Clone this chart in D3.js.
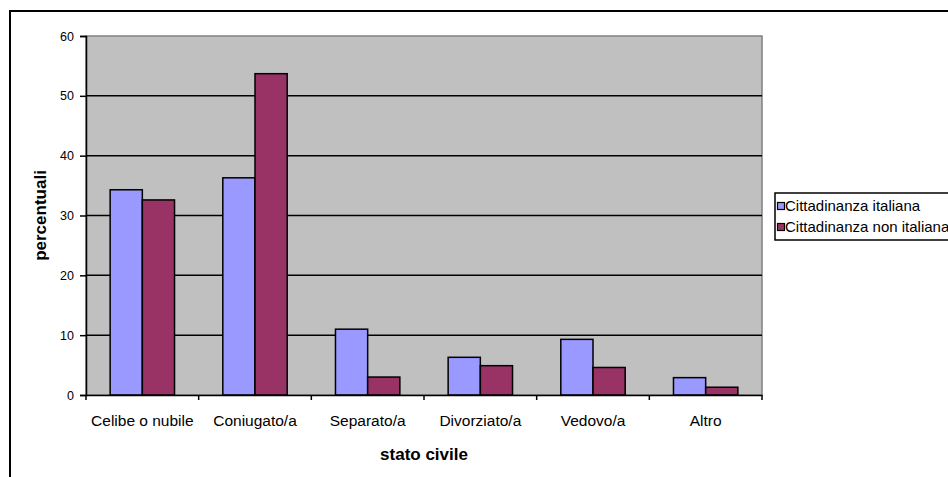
<!DOCTYPE html>
<html>
<head>
<meta charset="utf-8">
<script src="https://cdn.jsdelivr.net/npm/d3@7"></script>
<style>
  body { margin: 0; background: #fff; }
  svg { display: block; font-family: "Liberation Sans", Arial, sans-serif; }
</style>
</head>
<body>
<div id="chart"></div>
<script>
// categories and series
const categories = ["Celibe o nubile", "Coniugato/a", "Separato/a", "Divorziato/a", "Vedovo/a", "Altro"]
const seriesNames = ["Cittadinanza italiana", "Cittadinanza non italiana"]
const italiana = [34.3, 36.3, 11.0, 6.3, 9.3, 2.9]
const nonItaliana = [32.6, 53.7, 3.0, 4.9, 4.6, 1.3]
const yTicks = [0, 10, 20, 30, 40, 50, 60]
const colors = ["#9999FF", "#993366"]

let width = 948
let height = 477

let plot = {left: 86, right: 762, top: 36, bottom: 395}

const svg = d3.select('#chart')
  .append('svg')
  .attr('width', width)
  .attr('height', height)

// outer chart frame (runs off the right and bottom edge)
svg.append('rect')
  .attr('x', 10)
  .attr('y', 11)
  .attr('width', 1000)
  .attr('height', 600)
  .attr('fill', 'none')
  .attr('stroke', '#000')
  .attr('stroke-width', 2)

let x0 = d3.scaleBand()
  .domain(categories)
  .range([plot.left, plot.right])

let x1 = d3.scaleBand()
  .domain(seriesNames)
  .range([0, x0.bandwidth()])
  .paddingInner(0)
  .paddingOuter(0.75)

let y = d3.scaleLinear()
  .domain([0, 60])
  .range([plot.bottom, plot.top])

// plot background
svg.append('rect')
  .attr('x', plot.left)
  .attr('y', plot.top)
  .attr('width', plot.right - plot.left)
  .attr('height', plot.bottom - plot.top)
  .attr('fill', '#C0C0C0')
  .attr('stroke', '#808080')
  .attr('stroke-width', 1.5)

// gridlines
svg.append('g')
  .selectAll('line')
  .data(yTicks.filter(d => d > 0 && d < 60))
  .join('line')
  .attr('x1', plot.left)
  .attr('x2', plot.right)
  .attr('y1', d => y(d))
  .attr('y2', d => y(d))
  .attr('stroke', '#000')
  .attr('stroke-width', 1.5)

// bars
let data = categories.map((c, i) => ({cat: c, values: [italiana[i], nonItaliana[i]]}))

svg.append('g')
  .selectAll('g')
  .data(data)
  .join('g')
  .attr('transform', d => `translate(${x0(d.cat)},0)`)
  .selectAll('rect')
  .data(d => d.values.map((v, j) => ({name: seriesNames[j], value: v, j: j})))
  .join('rect')
  .attr('x', d => x1(d.name))
  .attr('y', d => y(d.value))
  .attr('width', x1.bandwidth())
  .attr('height', d => y(0) - y(d.value))
  .attr('fill', d => colors[d.j])
  .attr('stroke', '#000')
  .attr('stroke-width', 1.5)

// y axis
let yAxis = svg.append('g')
  .attr('transform', `translate(${plot.left},0)`)
  .call(d3.axisLeft(y).tickValues(yTicks).tickSize(6).tickPadding(6))
yAxis.select('.domain').attr('stroke-width', 1.5)
yAxis.selectAll('line').attr('stroke-width', 1.5)
yAxis.selectAll('text').attr('font-size', 12.5).attr('fill', '#000')
  .attr('font-family', '"Liberation Sans", Arial, sans-serif')

// x axis: ticks at category boundaries
let xAxis = svg.append('g')
  .attr('transform', `translate(0,${plot.bottom})`)
  .call(d3.axisBottom(x0).tickSize(0).tickPadding(20))
xAxis.select('.domain').attr('stroke-width', 1.5)
xAxis.selectAll('text').attr('font-size', 15.5).attr('fill', '#000')
  .attr('font-family', '"Liberation Sans", Arial, sans-serif')

xAxis.append('g')
  .selectAll('line')
  .data(categories.concat(['end']))
  .join('line')
  .attr('x1', (d, i) => plot.left + i * x0.step())
  .attr('x2', (d, i) => plot.left + i * x0.step())
  .attr('y1', 0)
  .attr('y2', 5)
  .attr('stroke', '#000')
  .attr('stroke-width', 1.5)

// axis titles
svg.append('text')
  .attr('x', (plot.left + plot.right) / 2)
  .attr('y', 460)
  .attr('text-anchor', 'middle')
  .attr('font-size', 17)
  .attr('font-weight', 'bold')
  .text('stato civile')

svg.append('text')
  .attr('transform', `translate(46,${(plot.top + plot.bottom) / 2}) rotate(-90)`)
  .attr('text-anchor', 'middle')
  .attr('font-size', 17)
  .attr('font-weight', 'bold')
  .text('percentuali')

// legend
let legend = svg.append('g').attr('transform', 'translate(775,193)')

legend.append('rect')
  .attr('x', 0)
  .attr('y', 0)
  .attr('width', 300)
  .attr('height', 47)
  .attr('fill', '#fff')
  .attr('stroke', '#000')
  .attr('stroke-width', 1.5)

let items = legend.selectAll('g.item')
  .data(seriesNames)
  .join('g')
  .attr('class', 'item')
  .attr('transform', (d, i) => `translate(0,${13 + i * 21})`)

items.append('rect')
  .attr('x', 2.5)
  .attr('y', -3.5)
  .attr('width', 7)
  .attr('height', 7)
  .attr('fill', (d, i) => colors[i])
  .attr('stroke', '#000')
  .attr('stroke-width', 1.2)

items.append('text')
  .attr('x', 10)
  .attr('y', 5)
  .attr('font-size', 15)
  .text(d => d)
</script>
</body>
</html>
